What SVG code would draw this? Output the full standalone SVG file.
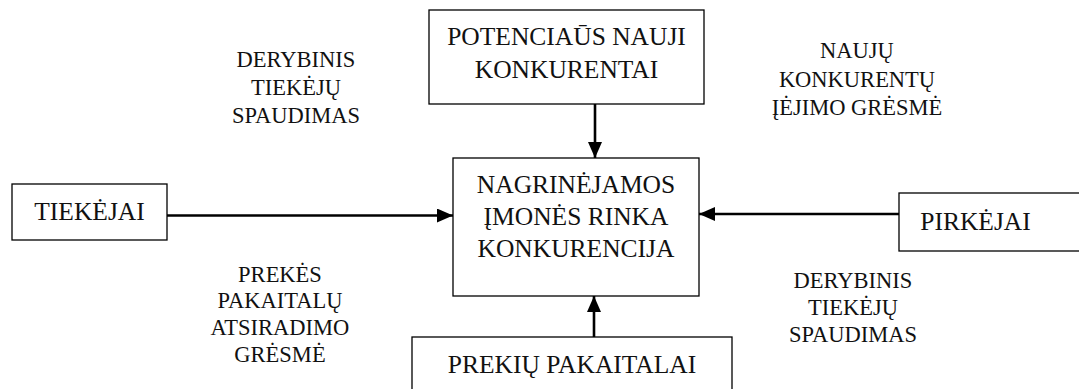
<svg xmlns="http://www.w3.org/2000/svg" width="1079" height="389" viewBox="0 0 1079 389">
<style>
.box{fill:#fff;stroke:#000;stroke-width:1.3}
.bt{font-size:25.5px}
.lb{font-size:22.5px}
.cn{stroke:#000;stroke-width:2.6;fill:none}
</style>
<defs>
<marker id="ah" viewBox="0 0 16 14" refX="16" refY="7" markerWidth="16" markerHeight="14" markerUnits="userSpaceOnUse" orient="auto">
<path d="M0,0 L16,7 L0,14 Z" fill="#000"/>
</marker>
</defs>
<rect width="1079" height="389" fill="#fff"/>
<g id="connectors">
<line class="cn" x1="595" y1="104" x2="595" y2="158" marker-end="url(#ah)"/>
<line class="cn" x1="167" y1="215.5" x2="453" y2="215.5" marker-end="url(#ah)"/>
<line class="cn" x1="899" y1="214" x2="699" y2="214" marker-end="url(#ah)"/>
<line class="cn" x1="594" y1="337" x2="594" y2="296" marker-end="url(#ah)"/>
</g>
<g font-family="Liberation Serif" fill="#111" text-anchor="middle">
<g id="node-potencialus">
<rect class="box" x="429" y="10" width="275" height="94"/>
<text class="bt" x="566.5" y="45">POTENCIAŪS NAUJI</text>
<text class="bt" x="566.5" y="78">KONKURENTAI</text>
</g>
<g id="node-center">
<rect class="box" x="453" y="158" width="246" height="138"/>
<text class="bt" x="576" y="193">NAGRINĖJAMOS</text>
<text class="bt" x="576" y="225">ĮMONĖS RINKA</text>
<text class="bt" x="576" y="257">KONKURENCIJA</text>
</g>
<g id="node-tiekejai">
<rect class="box" x="12" y="184" width="155" height="56"/>
<text class="bt" x="89.5" y="220">TIEKĖJAI</text>
</g>
<g id="node-pirkejai">
<rect class="box" x="899" y="193" width="190" height="58"/>
<text class="bt" x="975.5" y="230">PIRKĖJAI</text>
</g>
<g id="node-pakaitalai">
<rect class="box" x="412" y="337" width="320" height="70"/>
<text class="bt" x="572" y="373">PREKIŲ PAKAITALAI</text>
</g>
<g id="labels">
<text class="lb" x="296" y="67">DERYBINIS</text>
<text class="lb" x="296" y="95">TIEKĖJŲ</text>
<text class="lb" x="296" y="123">SPAUDIMAS</text>
<text class="lb" x="857" y="58">NAUJŲ</text>
<text class="lb" x="857" y="87">KONKURENTŲ</text>
<text class="lb" x="857" y="115">ĮĖJIMO GRĖSMĖ</text>
<text class="lb" x="280" y="282">PREKĖS</text>
<text class="lb" x="280" y="308">PAKAITALŲ</text>
<text class="lb" x="280" y="335">ATSIRADIMO</text>
<text class="lb" x="280" y="362">GRĖSMĖ</text>
<text class="lb" x="853" y="288">DERYBINIS</text>
<text class="lb" x="853" y="315">TIEKĖJŲ</text>
<text class="lb" x="853" y="342">SPAUDIMAS</text>
</g>
</g>
</svg>
